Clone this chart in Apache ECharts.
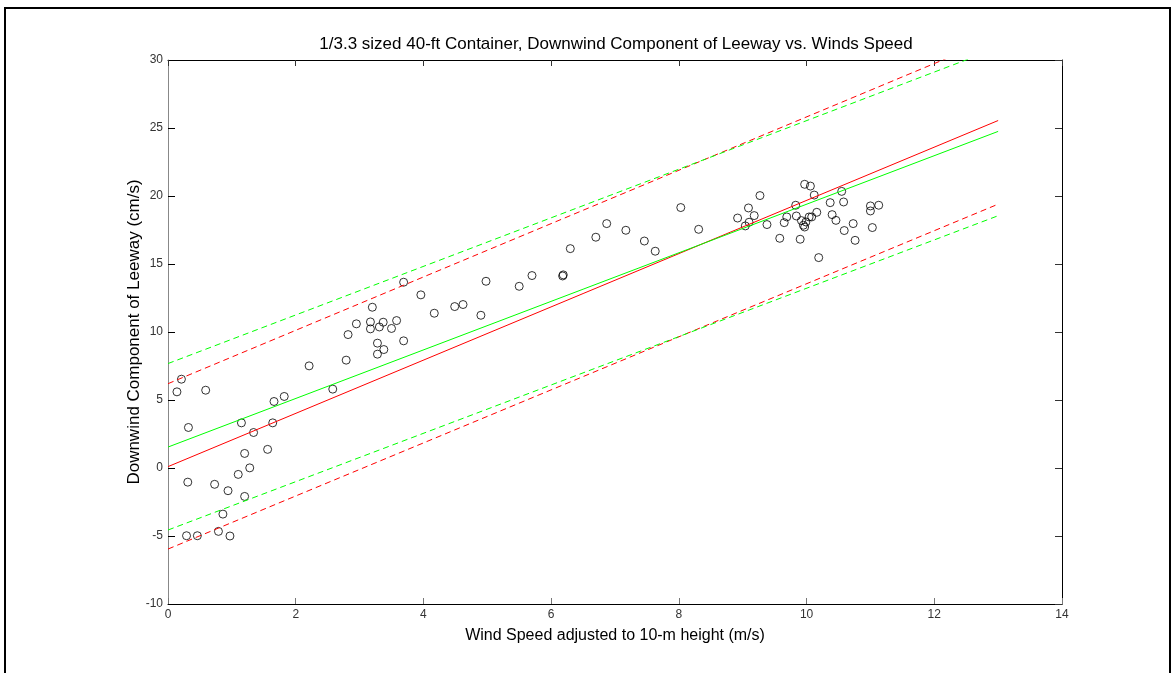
<!DOCTYPE html>
<html>
<head>
<meta charset="utf-8">
<script src="https://cdn.jsdelivr.net/npm/echarts@6/dist/echarts.min.js"></script>
<style>
html,body{margin:0;padding:0;background:#fff;}
#chart{width:1175px;height:673px;}
</style>
</head>
<body>
<div id="chart"></div>
<script>
// Observed points: [wind speed (m/s), downwind leeway (cm/s)]
var obsPoints = [
  [0.21,6.53],[0.14,5.6],[0.59,5.72],[2.21,7.51],[0.32,2.98],[1.15,3.32],[1.66,4.89],[1.82,5.26],
  [1.64,3.32],[1.34,2.61],[1.20,1.07],[1.56,1.37],[1.28,0.01],[1.10,-0.47],[0.31,-1.04],[0.73,-1.2],
  [0.94,-1.67],[1.20,-2.09],[0.86,-3.39],[0.29,-4.98],[0.46,-4.98],[0.79,-4.66],[0.97,-5.0],
  [2.58,5.8],[2.79,7.93],[2.82,9.81],[2.95,10.6],[3.20,11.82],[3.17,10.74],[3.17,10.23],[3.31,10.37],
  [3.37,10.72],[3.50,10.26],[3.58,10.84],[3.28,9.18],[3.38,8.71],[3.28,8.37],[3.69,9.35],[3.69,13.66],
  [3.96,12.73],[4.17,11.38],[4.49,11.87],[4.62,12.02],[4.90,11.23],[4.98,13.73],
  [5.50,13.36],[5.70,14.15],[6.18,14.12],[6.19,14.2],[6.30,16.13],[6.70,16.97],[6.87,17.97],[7.17,17.48],
  [7.46,16.69],[7.63,15.94],[8.03,19.15],[8.31,17.55],
  [8.92,18.38],[9.09,19.12],[9.18,18.56],[9.27,20.03],[9.10,18.07],[9.04,17.8],[9.38,17.9],[9.58,16.89],
  [9.65,18.04],[9.69,18.46],[9.83,19.32],[9.84,18.53],[9.90,16.82],[9.92,18.19],[9.95,17.85],[9.97,17.72],
  [9.99,18.09],[10.04,18.46],[10.08,18.46],[9.97,20.86],[10.06,20.73],[10.12,20.07],[10.16,18.8],
  [10.19,15.47],[10.37,19.51],[10.40,18.63],[10.46,18.21],[10.55,20.34],[10.58,19.56],[10.59,17.46],
  [10.73,17.97],[10.76,16.74],[11.0,19.27],[11.0,18.9],[11.13,19.32],[11.03,17.68]
];
// Fit lines (endpoints at x=0 and x=13)
var redFit = [[0,0.1],[13,25.55]];
var redUpper = [[0,6.2],[13,31.7]];
var redLower = [[0,-5.96],[13,19.4]];
var greenFit = [[0,1.54],[13,24.75]];
var greenUpper = [[0,7.68],[13,30.9]];
var greenLower = [[0,-4.56],[13,18.55]];
var xTicks = [0,2,4,6,8,10,12,14];
var yTicks = [-10,-5,0,5,10,15,20,25,30];
var yTitle = 'Downwind Component of Leeway (cm/s)';

var chart = echarts.init(document.getElementById('chart'));
var font = 'Arial, "Liberation Sans", sans-serif';
function lineSeries(data, color, dashed){
  return {type:'line', data:data, showSymbol:false, symbol:'none', silent:true, clip:true,
    lineStyle:{color:color, width:1, type: dashed ? [6,4] : 'solid'}, z:3};
}
chart.setOption({
  animation:false,
  backgroundColor:'#fff',
  title:{text:'1/3.3 sized 40-ft Container, Downwind Component of Leeway vs. Winds Speed',
    left:611, textAlign:'center', top:31,
    textStyle:{fontFamily:font, fontSize:17, fontWeight:'normal', color:'#000'}},
  graphic:[
    {type:'rect', shape:{x:5,y:8,width:1165,height:700},
      style:{fill:'none', stroke:'#000', lineWidth:2}, silent:true},
    {type:'text', x:134, y:332, rotation:Math.PI/2, silent:true,
      style:{text:yTitle, font:'17px Arial, "Liberation Sans", sans-serif', fill:'#000',
        textAlign:'center', textVerticalAlign:'middle'}}
  ],
  grid:{left:168, right:113, top:60, bottom:69, containLabel:false},
  xAxis:[{type:'value', min:0, max:14, interval:2,
      name:'Wind Speed adjusted to 10-m height (m/s)', nameLocation:'middle', nameGap:24,
      nameTextStyle:{fontFamily:font, fontSize:16, color:'#000'},
      axisLine:{show:true, onZero:false, lineStyle:{color:'#000', width:1}},
      axisTick:{show:true, inside:true, length:6, lineStyle:{color:'#777'}},
      axisLabel:{fontFamily:font, fontSize:12, color:'#333', margin:5, showMinLabel:true, showMaxLabel:true},
      splitLine:{show:false}},
    {type:'value', position:'top', min:0, max:14, interval:2,
      axisLine:{show:true, onZero:false, lineStyle:{color:'#000', width:1}},
      axisTick:{show:true, inside:true, length:6, lineStyle:{color:'#333'}},
      axisLabel:{show:false}, splitLine:{show:false}}],
  yAxis:[{type:'value', min:-10, max:30, interval:5,
      axisLine:{show:true, onZero:false, lineStyle:{color:'#888', width:1}},
      axisTick:{show:true, inside:true, length:7, lineStyle:{color:'#000'}},
      axisLabel:{fontFamily:font, fontSize:12, color:'#333', margin:5, showMinLabel:true, showMaxLabel:true},
      splitLine:{show:false}},
    {type:'value', position:'right', min:-10, max:30, interval:5,
      axisLine:{show:true, onZero:false, lineStyle:{color:'#000', width:1}},
      axisTick:{show:true, inside:true, length:7, lineStyle:{color:'#333'}},
      axisLabel:{show:false}, splitLine:{show:false}}],
  series:[
    {type:'scatter', data:obsPoints, symbol:'circle', symbolSize:8, silent:true, z:2,
      itemStyle:{color:'rgba(0,0,0,0)', borderColor:'#000', borderWidth:1}},
    lineSeries(redFit,'#ff0000',false),
    lineSeries(redUpper,'#ff0000',true),
    lineSeries(redLower,'#ff0000',true),
    lineSeries(greenFit,'#00ff00',false),
    lineSeries(greenUpper,'#00ff00',true),
    lineSeries(greenLower,'#00ff00',true)
  ]
});
</script>
</body>
</html>
